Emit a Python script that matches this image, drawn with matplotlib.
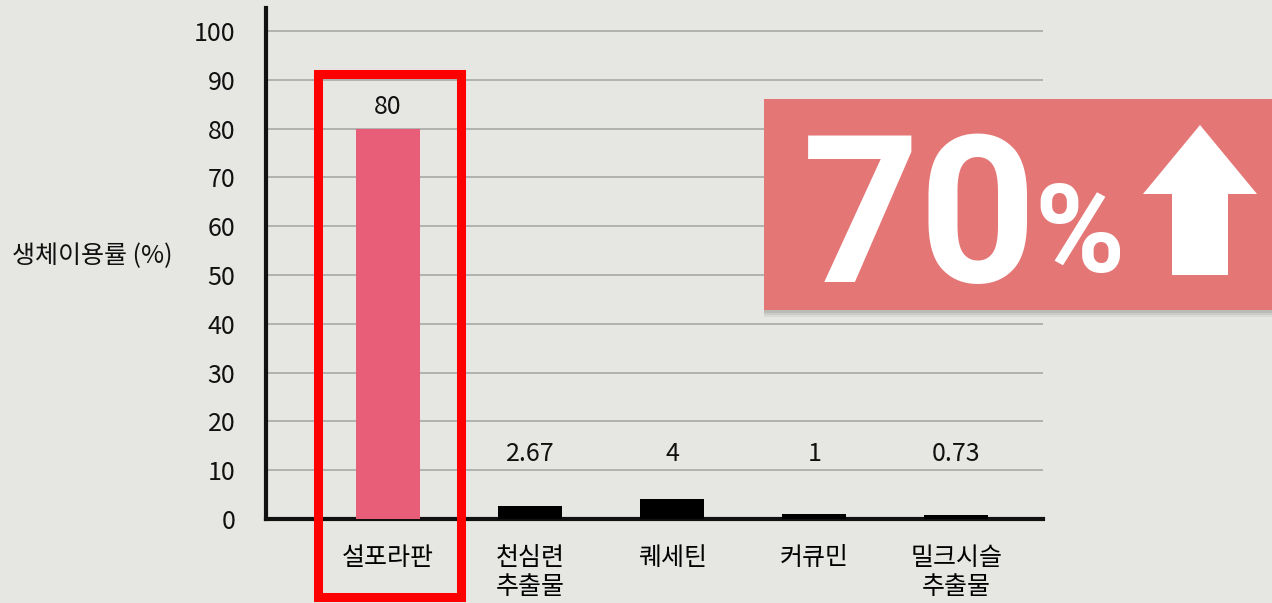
import matplotlib.pyplot as plt
from matplotlib.patches import Rectangle, Polygon

plt.rcParams['font.family'] = ['Noto Sans CJK KR', 'DejaVu Sans']

categories = ["설포라판", "천심련\n추출물", "퀘세틴", "커큐민", "밀크시슬\n추출물"]
values = [80, 2.67, 4, 1, 0.73]
value_labels = ["80", "2.67", "4", "1", "0.73"]
bar_colors = ["#e85e78", "black", "black", "black", "black"]
yticks = [0, 10, 20, 30, 40, 50, 60, 70, 80, 90, 100]

bg = "#e6e6e2"
W, H = 1272, 603

fig = plt.figure(figsize=(W / 100, H / 100), dpi=100, facecolor=bg)
ax = fig.add_axes([266 / W, 84 / H, (1043 - 266) / W, (595 - 84) / H])
ax.set_facecolor(bg)

x = list(range(len(categories)))
ax.bar(x, values, width=0.45, color=bar_colors, zorder=3)

for xi, v, lab in zip(x, values, value_labels):
    ax.text(xi, max(v, 9) + 4.4, lab, ha='center', va='center', fontsize=18, color='#111111')

ax.set_xlim(-0.86, 4.61)
ax.set_ylim(0, 104.7)
ax.set_yticks(yticks)
ax.set_xticks(x)
ax.set_xticklabels(categories, fontsize=18, linespacing=1.15)
ax.tick_params(axis='x', length=0, pad=19)
ax.tick_params(axis='y', length=0, pad=22, labelsize=18)
for t in ax.get_yticklabels():
    t.set_color('#111111')

ax.grid(axis='y', color='#a8a8a8', linewidth=1.2, zorder=0)
for s in ['top', 'right']:
    ax.spines[s].set_visible(False)
ax.spines['left'].set_linewidth(3)
ax.spines['bottom'].set_linewidth(3)
ax.spines['left'].set_color('#111111')
ax.spines['bottom'].set_color('#111111')

# red highlight frame around the first category
ax.add_patch(Rectangle((-0.493, -16), 1.007, 107.2, fill=False, edgecolor='#ff0000',
                       linewidth=6.5, clip_on=False, zorder=5))

fig.text(12 / W, 1 - 256 / H, "생체이용률 (%)", ha='left', va='center', fontsize=18, color='#111111')

# badge with soft shadow
for off, a in [(7, 0.12), (5, 0.18), (3, 0.25)]:
    fig.add_artist(Rectangle((764 / W, 1 - (310 + off) / H), (W - 764) / W, 211 / H,
                             transform=fig.transFigure, facecolor='#8a8a86', alpha=a,
                             edgecolor='none', zorder=6))
fig.add_artist(Rectangle((764 / W, 1 - 310 / H), (W - 764) / W, 211 / H,
                         transform=fig.transFigure, facecolor='#e57676',
                         edgecolor='none', zorder=7))
badge_font = ['Roboto', 'Noto Sans CJK KR']
fig.text(802 / W, 1 - 282 / H, "70", ha='left', va='baseline', fontsize=148,
         fontweight='bold', color='white', family=badge_font, zorder=8)
fig.text(1034 / W, 1 - 272 / H, "%", ha='left', va='baseline', fontsize=88,
         fontweight='bold', color='white', family=badge_font, zorder=8)
arrow = [(1200, 125), (1257, 194), (1228, 194), (1228, 275),
         (1172, 275), (1172, 194), (1143, 194)]
fig.add_artist(Polygon([(px / W, 1 - py / H) for px, py in arrow], closed=True,
                       transform=fig.transFigure, facecolor='white', edgecolor='none', zorder=8))

fig.savefig("out.png", dpi=100, facecolor=bg)
